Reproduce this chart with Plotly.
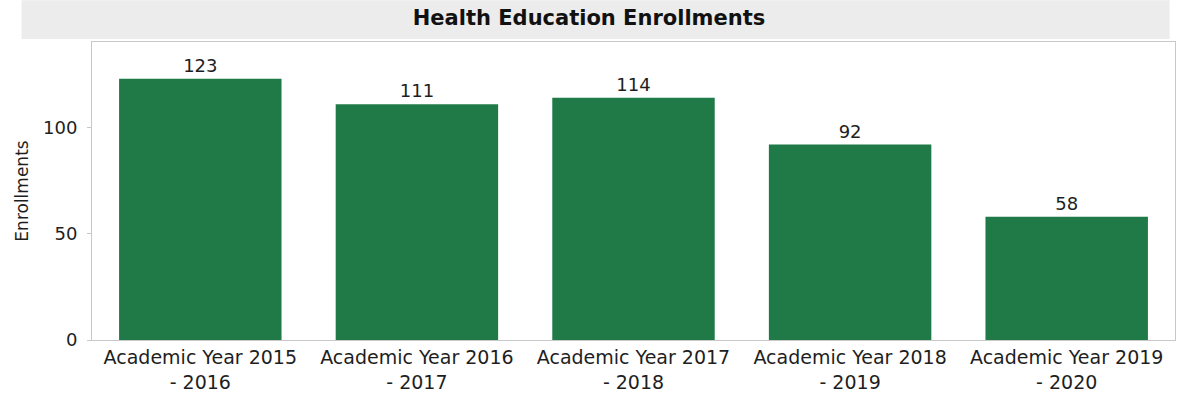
import plotly.graph_objects as go

# Enrollment counts per academic year
years = [
    "Academic Year 2015<br>- 2016",
    "Academic Year 2016<br>- 2017",
    "Academic Year 2017<br>- 2018",
    "Academic Year 2018<br>- 2019",
    "Academic Year 2019<br>- 2020",
]
enrollments = [123, 111, 114, 92, 58]
y_ticks = [0, 50, 100]

BAR_COLOR = "#1f7a48"
FONT = "DejaVu Sans, Liberation Sans, Arial, sans-serif"
TEXT = "#1e1e1e"

fig = go.Figure(
    go.Bar(
        x=years,
        y=enrollments,
        marker=dict(color=BAR_COLOR, line=dict(width=0)),
        text=[str(v) for v in enrollments],
        textposition="outside",
        textfont=dict(size=18, color=TEXT, family=FONT),
        cliponaxis=False,
        width=0.75,
    )
)

# light grey band behind the title
fig.add_shape(
    type="rect", xref="paper", yref="paper",
    x0=-0.065, x1=0.995, y0=1.01, y1=1.14,
    fillcolor="#ececec", line=dict(width=0), layer="below",
)

fig.update_layout(
    width=1178,
    height=395,
    margin=dict(l=92, r=2, t=42, b=53),
    paper_bgcolor="white",
    plot_bgcolor="white",
    showlegend=False,
    title=dict(
        text="<b>Health Education Enrollments</b>",
        x=0.5, xanchor="center",
        y=0.955, yanchor="middle",
        font=dict(size=21, color="#111111", family=FONT),
    ),
    font=dict(family=FONT, color=TEXT),
    xaxis=dict(
        showgrid=False,
        showline=True, linecolor="#c8c8c8", linewidth=1, mirror=True,
        ticks="", tickfont=dict(size=19, color=TEXT, family=FONT),
    ),
    yaxis=dict(
        range=[0, 140.3],
        tickvals=y_ticks,
        showgrid=False, zeroline=False,
        showline=True, linecolor="#c8c8c8", linewidth=1, mirror=True,
        ticks="outside", ticklen=4, tickcolor="#c8c8c8",
        ticklabelstandoff=6,
        tickfont=dict(size=18, color=TEXT, family=FONT),
        title=dict(text="Enrollments", font=dict(size=17, color=TEXT, family=FONT), standoff=10),
    ),
)

fig.write_html("out.html")
